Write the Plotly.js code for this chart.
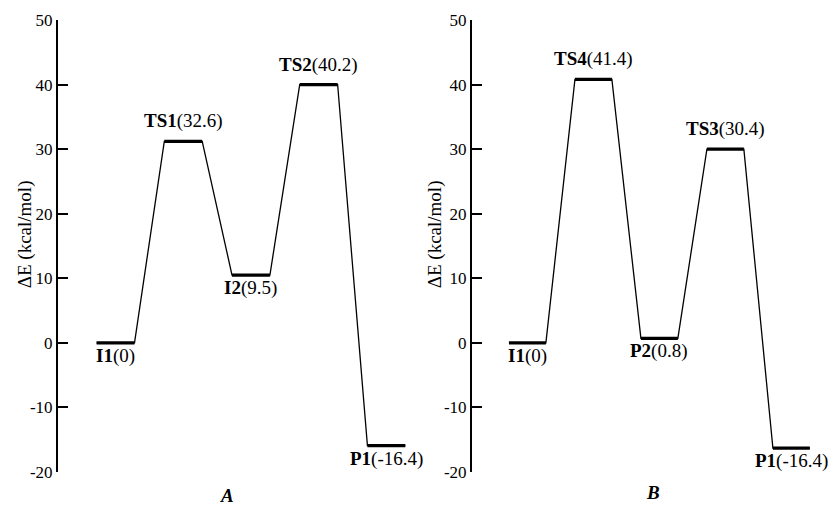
<!DOCTYPE html>
<html>
<head>
<meta charset="utf-8">
<script src="https://cdn.plot.ly/plotly-3.0.1.min.js"></script>
<style>html,body{margin:0;padding:0;background:#fff;}#chart{width:830px;height:506px;}</style>
</head>
<body>
<div id="chart"></div>
<script>
// Panel A
const statesA = ['I1', 'TS1', 'I2', 'TS2', 'P1'];
const energyA = [0, 31.2, 10.5, 40.0, -15.9];       // drawn level heights
const labelValA = ['0', '32.6', '9.5', '40.2', '-16.4'];
const posA = ['below', 'above', 'below', 'above', 'below'];
// Panel B
const statesB = ['I1', 'TS4', 'P2', 'TS3', 'P1'];
const energyB = [0, 40.8, 0.7, 30.0, -16.3];
const labelValB = ['0', '41.4', '0.8', '30.4', '-16.4'];
const posB = ['below', 'above', 'below', 'above', 'below'];
const yTicks = [-20, -10, 0, 10, 20, 30, 40, 50];
const yTitle = 'ΔE (kcal/mol)';
const panelNames = ['A', 'B'];

const HW = 0.28;
const FONT = 'Times New Roman';

function buildTraces(energy, xa, ya) {
  const px = [], py = [], lx = [], ly = [];
  energy.forEach((e, i) => {
    const c = i + 1;
    px.push(c - HW, c + HW); py.push(e, e);
    lx.push(c - HW, c + HW, null); ly.push(e, e, null);
  });
  return [
    {x: px, y: py, xaxis: xa, yaxis: ya, mode: 'lines', line: {color: '#000', width: 1.3}, hoverinfo: 'skip', showlegend: false},
    {x: lx, y: ly, xaxis: xa, yaxis: ya, mode: 'lines', line: {color: '#000', width: 3.2}, hoverinfo: 'skip', showlegend: false, connectgaps: false}
  ];
}

function buildLabels(states, energy, vals, pos, xr, yr) {
  return states.map((s, i) => ({
    x: i + 1, y: energy[i], xref: xr, yref: yr,
    text: '<b>' + s + '</b>(' + vals[i] + ')',
    showarrow: false, xanchor: 'center', yanchor: 'middle',
    yshift: pos[i] === 'above' ? 20 : -13,
    font: {family: FONT, size: 19, color: '#000'}
  }));
}

const traces = [...buildTraces(energyA, 'x', 'y'), ...buildTraces(energyB, 'x2', 'y2')];

const yax = (anchor) => ({
  range: [-20, 50], tickvals: yTicks, ticktext: yTicks.map(String),
  showline: true, linewidth: 2, linecolor: '#000',
  ticks: 'inside', ticklen: 10, tickwidth: 2, tickcolor: '#000',
  showgrid: false, zeroline: false, anchor: anchor, domain: [0, 1],
  tickfont: {family: FONT, size: 17, color: '#000'}
});

const layout = {
  width: 830, height: 506,
  margin: {l: 0, r: 0, t: 20, b: 34},
  paper_bgcolor: '#fff', plot_bgcolor: '#fff',
  showlegend: false,
  font: {family: FONT, color: '#000'},
  xaxis: {domain: [58/830, 427/830], range: [0.15, 5.6], visible: false, anchor: 'y'},
  xaxis2: {domain: [472/830, 827/830], range: [0.16, 5.54], visible: false, anchor: 'y2'},
  yaxis: yax('x'),
  yaxis2: yax('x2'),
  annotations: [
    ...buildLabels(statesA, energyA, labelValA, posA, 'x', 'y'),
    ...buildLabels(statesB, energyB, labelValB, posB, 'x2', 'y2'),
    {x: 25/830, y: 0.526, xref: 'paper', yref: 'paper', text: yTitle, textangle: -90, showarrow: false,
     xanchor: 'center', yanchor: 'middle', font: {family: FONT, size: 19, color: '#000'}},
    {x: 435/830, y: 0.526, xref: 'paper', yref: 'paper', text: yTitle, textangle: -90, showarrow: false,
     xanchor: 'center', yanchor: 'middle', font: {family: FONT, size: 19, color: '#000'}},
    {x: 227/830, y: -0.053, xref: 'paper', yref: 'paper', text: '<b><i>' + panelNames[0] + '</i></b>', showarrow: false,
     xanchor: 'center', yanchor: 'middle', font: {family: FONT, size: 19, color: '#000'}},
    {x: 653/830, y: -0.046, xref: 'paper', yref: 'paper', text: '<b><i>' + panelNames[1] + '</i></b>', showarrow: false,
     xanchor: 'center', yanchor: 'middle', font: {family: FONT, size: 19, color: '#000'}}
  ]
};

Plotly.newPlot('chart', traces, layout, {displayModeBar: false, staticPlot: true});
</script>
</body>
</html>
